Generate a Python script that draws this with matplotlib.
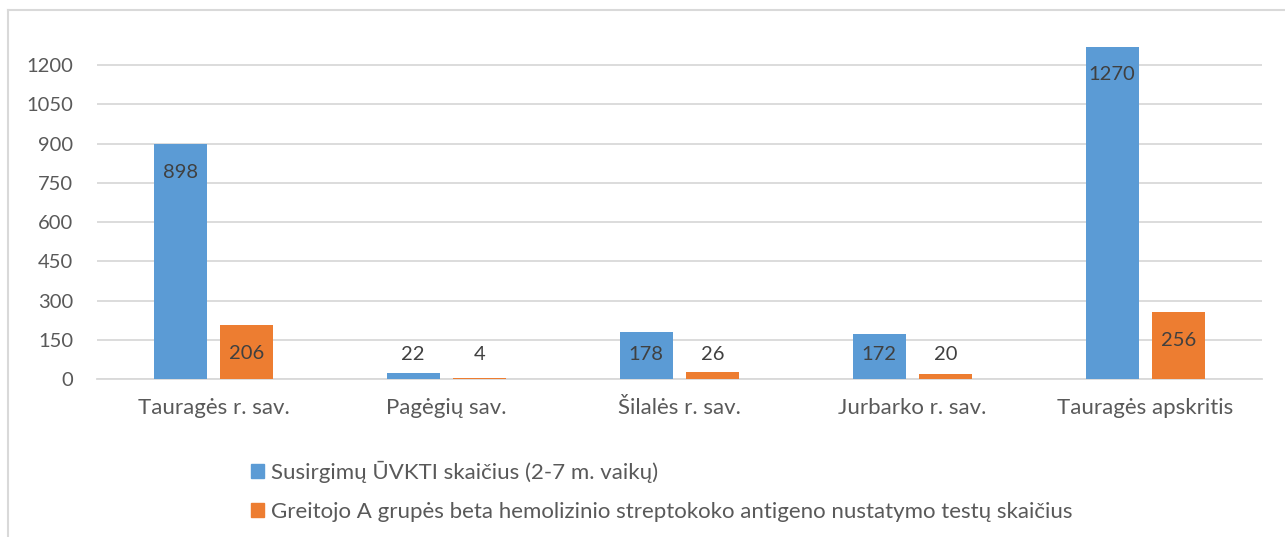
import matplotlib.pyplot as plt
import numpy as np
from matplotlib.lines import Line2D
from matplotlib.patches import Patch

# data
categories = ["Tauragės r. sav.", "Pagėgių sav.", "Šilalės r. sav.",
              "Jurbarko r. sav.", "Tauragės apskritis"]
uvkti = [898, 22, 178, 172, 1270]
testai = [206, 4, 26, 20, 256]
series_names = ["Susirgimų ŪVKTI skaičius (2-7 m. vaikų)",
                "Greitojo A grupės beta hemolizinio streptokoko antigeno nustatymo testų skaičius"]
yticks = [0, 150, 300, 450, 600, 750, 900, 1050, 1200]

blue = "#5B9BD5"
orange = "#ED7D31"
txt = "#595959"

plt.rcParams['font.family'] = ['Lato', 'DejaVu Sans']

fig = plt.figure(figsize=(12.85, 5.37), dpi=100)
ax = fig.add_axes([97 / 1285, 1 - 379 / 537, (1262 - 97) / 1285, (379 - 39) / 537])

x = np.arange(len(categories))
w = 0.227
gap = 0.06
b1 = ax.bar(x - (w + gap) / 2, uvkti, w, color=blue, zorder=3)
b2 = ax.bar(x + (w + gap) / 2, testai, w, color=orange, zorder=3)

ax.set_xlim(-0.5, len(categories) - 0.5)
ax.set_ylim(0, 1300)
ax.set_yticks(yticks)
ax.set_xticks(x)
ax.set_xticklabels(categories)
ax.tick_params(axis='both', length=0, labelsize=14.5, colors=txt)
ax.tick_params(axis='x', pad=14, labelsize=16)
ax.tick_params(axis='y', pad=17)
ax.grid(axis='y', color="#D9D9D9", linewidth=1.3, zorder=0)
for s in ['top', 'right', 'left']:
    ax.spines[s].set_visible(False)
ax.spines['bottom'].set_color("#D9D9D9")
ax.spines['bottom'].set_linewidth(1.3)

# value labels: inside end, but not below a minimum height
for bars, vals in [(b1, uvkti), (b2, testai)]:
    for r, v in zip(bars, vals):
        yl = max(v - 107, 92)
        ax.text(r.get_x() + r.get_width() / 2, yl, str(v), ha='center', va='center',
                fontsize=14.5, color="#404040", zorder=4)

handles = [Patch(color=blue), Patch(color=orange)]
fig.legend(handles, series_names, loc='upper left', bbox_to_anchor=(240 / 1285, 1 - 450 / 537),
           frameon=False, fontsize=16, labelcolor=txt, handlelength=0.6, handleheight=0.6,
           handletextpad=0.3, labelspacing=0.85, borderpad=0)

# outer chart border (top and left visible)
fig.add_artist(Line2D([8 / 1285, 8 / 1285], [0, 1 - 10 / 537], color="#D9D9D9", lw=1.5))
fig.add_artist(Line2D([8 / 1285, 1], [1 - 10 / 537, 1 - 10 / 537], color="#D9D9D9", lw=1.5))

fig.savefig("out.png", dpi=100)
